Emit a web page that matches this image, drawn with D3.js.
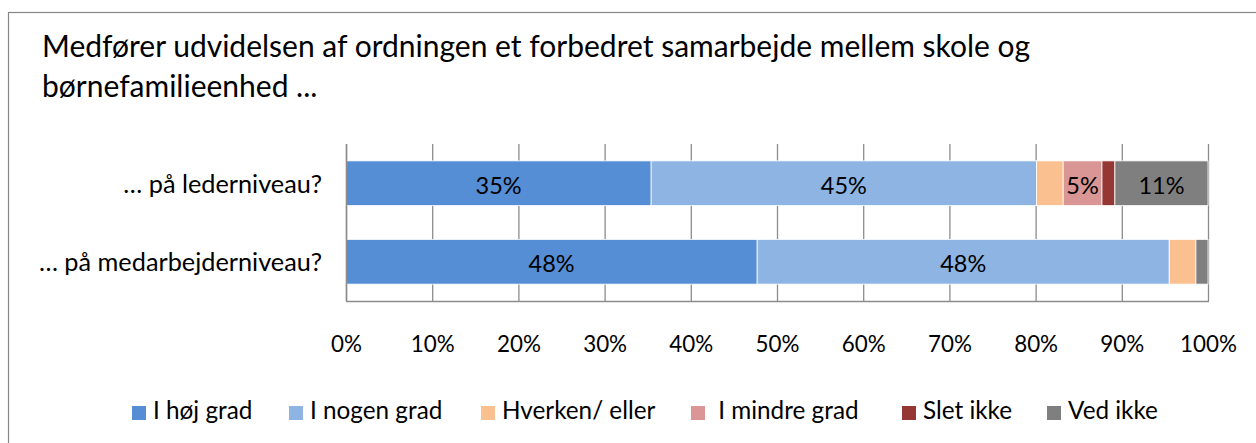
<!DOCTYPE html>
<html>
<head>
<meta charset="utf-8">
<script src="https://cdn.jsdelivr.net/npm/d3@7"></script>
<style>
  body { margin: 0; background: #fff; }
  svg { display: block; font-family: Lato, "Open Sans", sans-serif; }
</style>
</head>
<body>
<svg id="chart" width="1256" height="443"></svg>
<script>
// Question rows (top to bottom)
const categories = ['… på lederniveau?', '… på medarbejderniveau?'];

// Answer options, in stacking order
const seriesNames = ['I høj grad', 'I nogen grad', 'Hverken/ eller', ' I mindre grad', 'Slet ikke', 'Ved ikke'];
const seriesColors = ['#558ed5', '#8eb4e3', '#fac090', '#d99694', '#953735', '#7f7f7f'];

// Shares in percent, one array per answer option
const hojGrad = [35.4, 47.7];
const nogenGrad = [44.7, 47.8];
const hverkenEller = [3.1, 3.1];
const mindreGrad = [4.5, 0];
const sletIkke = [1.5, 0];
const vedIkke = [10.8, 1.4];

const xTicks = [0, 10, 20, 30, 40, 50, 60, 70, 80, 90, 100];
const titleLines = [
  'Medfører udvidelsen af ordningen et forbedret samarbejde mellem skole og',
  'børnefamilieenhed ...'
];

const svg = d3.select('#chart');
const width = 1256;

// Chart frame (right and bottom edge run past the picture)
svg.append('rect')
  .attr('x', 8.5).attr('y', 12.5)
  .attr('width', width + 20).attr('height', 460)
  .attr('fill', '#fff')
  .attr('stroke', '#868686')
  .attr('stroke-width', 1.2);

// Title
svg.append('g')
  .selectAll('text')
  .data(titleLines)
  .enter()
  .append('text')
  .attr('x', 42)
  .attr('y', (d, i) => 57 + i * 40)
  .style('font-size', '30px')
  .style('fill', '#000')
  .text(d => d);

const margin = { left: 346, right: 1208, top: 144, bottom: 301 };

const x = d3.scaleLinear()
  .domain([0, 100])
  .range([margin.left, margin.right]);

const y = d3.scaleBand()
  .domain(categories)
  .range([margin.top, margin.bottom])
  .paddingInner(0.43)
  .paddingOuter(0.215);

// Build rows for the stack from the named arrays
const seriesArrays = [hojGrad, nogenGrad, hverkenEller, mindreGrad, sletIkke, vedIkke];
const rows = categories.map((c, i) => {
  const r = { category: c };
  seriesNames.forEach((s, j) => { r[s] = seriesArrays[j][i]; });
  return r;
});
const stacked = d3.stack().keys(seriesNames)(rows);

// Gridlines
svg.append('g')
  .selectAll('line')
  .data(xTicks)
  .enter()
  .append('line')
  .attr('x1', d => x(d) + 0.5)
  .attr('x2', d => x(d) + 0.5)
  .attr('y1', margin.top)
  .attr('y2', margin.bottom)
  .attr('stroke', '#8c8c8c')
  .attr('stroke-width', 1.3);

// Bars
const layer = svg.append('g')
  .selectAll('g')
  .data(stacked)
  .enter()
  .append('g')
  .attr('fill', (d, i) => seriesColors[i]);

layer.selectAll('rect')
  .data(d => d.map(v => ({ v, key: d.key })))
  .enter()
  .append('rect')
  .attr('x', d => x(d.v[0]))
  .attr('y', d => y(d.v.data.category))
  .attr('width', d => Math.max(0, x(d.v[1]) - x(d.v[0])))
  .attr('height', y.bandwidth())
  .attr('stroke', '#fff')
  .attr('stroke-width', d => (d.v[1] - d.v[0]) > 0 ? 0.8 : 0);

// Data labels (only segments large enough to show one)
layer.selectAll('text')
  .data(d => d.map(v => ({ v, key: d.key })).filter(d => d.v[1] - d.v[0] >= 4.5))
  .enter()
  .append('text')
  .attr('x', d => (x(d.v[0]) + x(d.v[1])) / 2)
  .attr('y', d => y(d.v.data.category) + y.bandwidth() / 2)
  .attr('dy', '0.45em')
  .attr('text-anchor', 'middle')
  .style('font-size', '23.5px')
  .style('fill', '#000')
  .text(d => Math.round(d.v[1] - d.v[0]) + '%');

// Axes lines
svg.append('line')
  .attr('x1', margin.left + 0.5).attr('x2', margin.left + 0.5)
  .attr('y1', margin.top).attr('y2', margin.bottom)
  .attr('stroke', '#8c8c8c').attr('stroke-width', 1.5);
svg.append('line')
  .attr('x1', margin.left).attr('x2', margin.right + 1)
  .attr('y1', margin.bottom + 0.5).attr('y2', margin.bottom + 0.5)
  .attr('stroke', '#8c8c8c').attr('stroke-width', 1.5);

// X tick labels
const xAxis = d3.axisBottom(x)
  .tickValues(xTicks)
  .tickFormat(d => d + '%')
  .tickSize(0)
  .tickPadding(35);
const xg = svg.append('g')
  .attr('transform', `translate(0,${margin.bottom})`)
  .call(xAxis);
xg.select('.domain').remove();
xg.selectAll('text')
  .style('font-family', 'Lato, "Open Sans", sans-serif')
  .style('font-size', '22.4px')
  .style('fill', '#000');

// Category labels
const yAxis = d3.axisLeft(y).tickSize(0).tickPadding(24);
const yg = svg.append('g')
  .attr('transform', `translate(${margin.left},0)`)
  .call(yAxis);
yg.select('.domain').remove();
yg.selectAll('text')
  .attr('dy', '0.37em')
  .style('font-family', 'Lato, "Open Sans", sans-serif')
  .style('font-size', '25.3px')
  .style('fill', '#000');

// Legend
const legendStarts = [132, 289, 481, 691, 902, 1047];
const legend = svg.append('g')
  .selectAll('g')
  .data(seriesNames)
  .enter()
  .append('g')
  .attr('transform', (d, i) => `translate(${legendStarts[i]},0)`);

legend.append('rect')
  .attr('x', 0).attr('y', 406)
  .attr('width', 14).attr('height', 14)
  .attr('fill', (d, i) => seriesColors[i]);

legend.append('text')
  .attr('x', 21)
  .attr('y', 419)
  .style('font-size', '24.3px')
  .style('fill', '#000')
  .style('white-space', 'pre')
  .text(d => d);
</script>
</body>
</html>
